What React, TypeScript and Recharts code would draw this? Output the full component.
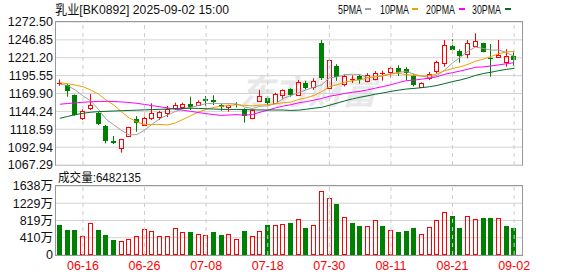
import React from 'react'
import { ComposedChart, Bar, Line, XAxis, YAxis, CartesianGrid, ReferenceLine } from 'recharts'

const DATES = [
  '06-11', '06-12', '06-13', '06-16', '06-17', '06-18', '06-19', '06-20', '06-23', '06-24',
  '06-25', '06-26', '06-27', '06-30', '07-01', '07-02', '07-03', '07-04', '07-07', '07-08',
  '07-09', '07-10', '07-11', '07-14', '07-15', '07-16', '07-17', '07-18', '07-21', '07-22',
  '07-23', '07-24', '07-25', '07-28', '07-29', '07-30', '07-31', '08-01', '08-04', '08-05',
  '08-06', '08-07', '08-08', '08-11', '08-12', '08-13', '08-14', '08-15', '08-18', '08-19',
  '08-20', '08-21', '08-22', '08-25', '08-26', '08-27', '08-28', '08-29', '09-01', '09-02',
]
const DATE_TICKS = ['06-16', '06-26', '07-08', '07-18', '07-30', '08-11', '08-21', '09-02']

const OPEN = [
  1185.0, 1182.1, 1167.7, 1135.2, 1148.7, 1142.4, 1123.3, 1101.7, 1091.3, 1108.9,
  1132.9, 1124.7, 1135.2, 1136.5, 1142.4, 1148.7, 1150.9, 1154.4, 1153.4, 1161.6,
  1160.1, 1153.4, 1151.0, 1155.0, 1147.2, 1134.3, 1159.6, 1163.9, 1156.7, 1167.7,
  1175.9, 1167.7, 1185.4, 1178.8, 1242.0, 1177.4, 1210.0, 1184.0, 1190.0, 1195.0,
  1188.0, 1191.0, 1199.0, 1201.2, 1206.1, 1205.0, 1195.0, 1179.7, 1191.7, 1202.6,
  1214.1, 1238.1, 1230.9, 1226.2, 1238.5, 1241.9, 1221.5, 1221.9, 1215.6, 1223.7,
]
const HIGH = [
  1190.0, 1183.5, 1168.5, 1147.2, 1169.2, 1143.8, 1124.7, 1108.9, 1104.6, 1122.0,
  1137.6, 1142.4, 1155.8, 1145.0, 1151.9, 1156.7, 1156.7, 1165.3, 1160.0, 1166.3,
  1167.3, 1155.8, 1153.8, 1157.5, 1148.7, 1147.0, 1174.9, 1165.3, 1171.0, 1175.9,
  1177.4, 1189.3, 1188.3, 1191.7, 1246.7, 1219.4, 1212.0, 1197.0, 1196.0, 1198.0,
  1199.0, 1202.0, 1202.6, 1208.0, 1210.4, 1208.0, 1198.0, 1186.0, 1200.8, 1217.0,
  1246.7, 1247.7, 1233.3, 1246.7, 1256.3, 1242.7, 1241.0, 1246.7, 1233.3, 1230.2,
]
const LOW = [
  1181.0, 1165.3, 1138.0, 1131.9, 1146.2, 1124.7, 1098.4, 1097.4, 1085.0, 1108.0,
  1115.1, 1124.7, 1131.9, 1131.9, 1136.1, 1146.2, 1148.7, 1146.2, 1152.0, 1151.9,
  1153.4, 1145.2, 1143.8, 1150.0, 1128.0, 1133.0, 1159.0, 1153.4, 1155.8, 1161.6,
  1165.3, 1166.3, 1175.9, 1175.0, 1189.3, 1176.3, 1188.0, 1180.0, 1185.0, 1184.0,
  1186.0, 1189.0, 1188.3, 1193.0, 1195.0, 1189.0, 1180.0, 1178.0, 1189.0, 1198.4,
  1208.4, 1227.6, 1214.1, 1220.4, 1237.1, 1229.0, 1194.0, 1221.9, 1208.4, 1209.4,
]
const CLOSE = [
  1185.4, 1173.9, 1139.0, 1144.8, 1153.4, 1126.1, 1102.2, 1098.4, 1104.6, 1121.4,
  1128.0, 1134.3, 1142.0, 1143.5, 1147.2, 1153.4, 1154.8, 1151.0, 1157.3, 1159.6,
  1157.3, 1150.1, 1153.4, 1154.0, 1137.6, 1146.2, 1166.3, 1156.8, 1169.2, 1174.9,
  1167.7, 1186.8, 1177.4, 1187.8, 1191.7, 1218.0, 1193.0, 1194.5, 1191.0, 1189.0,
  1196.0, 1200.0, 1199.3, 1206.1, 1201.2, 1200.0, 1182.1, 1184.5, 1197.4, 1215.5,
  1239.5, 1232.3, 1223.7, 1241.9, 1245.7, 1229.0, 1220.0, 1225.2, 1223.7, 1218.0,
]

// moving averages as drawn
const MA5 = [
  1183.4, 1181.5, 1175.0, 1166.5, 1159.3, 1147.4, 1133.1, 1125.0, 1116.9, 1110.5,
  1110.9, 1117.3, 1126.1, 1133.8, 1139.0, 1144.1, 1148.2, 1150.0, 1152.7, 1155.2,
  1156.0, 1155.1, 1155.5, 1154.9, 1150.5, 1148.3, 1151.5, 1152.2, 1155.2, 1162.7,
  1167.0, 1171.1, 1175.2, 1178.9, 1182.3, 1192.3, 1193.6, 1197.0, 1197.6, 1197.1,
  1192.7, 1194.1, 1195.1, 1198.1, 1200.5, 1201.3, 1197.7, 1194.8, 1193.0, 1195.9,
  1203.8, 1213.8, 1221.7, 1230.6, 1236.6, 1234.5, 1232.1, 1232.4, 1228.7, 1223.2,
]
const MA10 = [
  1185.4, 1184.0, 1182.0, 1179.7, 1175.0, 1169.2, 1160.6, 1153.4, 1143.8, 1134.9,
  1129.2, 1125.2, 1125.5, 1125.4, 1124.8, 1127.5, 1132.8, 1138.0, 1143.3, 1147.1,
  1150.0, 1151.6, 1152.8, 1153.8, 1152.9, 1152.1, 1153.3, 1153.9, 1155.1, 1156.6,
  1157.6, 1161.3, 1163.7, 1167.1, 1172.5, 1179.7, 1182.3, 1186.1, 1188.3, 1189.7,
  1192.5, 1193.8, 1196.0, 1197.9, 1198.8, 1197.0, 1195.9, 1194.9, 1195.6, 1198.2,
  1202.6, 1205.8, 1208.2, 1211.8, 1216.3, 1219.2, 1223.0, 1227.0, 1229.7, 1229.9,
]
const MA20 = [
  1154.5, 1155.5, 1156.5, 1157.3, 1158.0, 1158.5, 1158.6, 1158.4, 1157.8, 1157.0,
  1155.8, 1154.2, 1152.5, 1150.8, 1149.2, 1147.5, 1145.8, 1144.3, 1142.6, 1141.0,
  1139.6, 1138.4, 1139.1, 1139.6, 1138.8, 1139.8, 1143.0, 1145.9, 1149.2, 1151.8,
  1153.8, 1156.5, 1158.2, 1160.4, 1162.7, 1165.9, 1167.8, 1170.0, 1171.7, 1173.1,
  1175.1, 1177.6, 1179.9, 1182.5, 1185.6, 1188.3, 1189.1, 1190.5, 1191.9, 1194.0,
  1197.5, 1199.8, 1202.1, 1204.8, 1207.5, 1208.1, 1209.4, 1211.0, 1212.6, 1214.1,
]
const MA30 = [
  1134.3, 1137.0, 1139.5, 1141.5, 1143.0, 1143.8, 1144.3, 1144.8, 1145.2, 1145.6,
  1146.0, 1146.4, 1146.8, 1147.2, 1147.6, 1148.0, 1148.4, 1148.7, 1148.5, 1148.0,
  1147.6, 1147.2, 1147.0, 1147.0, 1146.8, 1146.5, 1146.3, 1146.2, 1146.2, 1146.2,
  1145.6, 1146.0, 1147.3, 1148.8, 1150.0, 1153.1, 1156.1, 1159.3, 1162.2, 1164.5,
  1166.7, 1168.9, 1170.8, 1172.9, 1174.7, 1176.3, 1177.2, 1178.3, 1179.6, 1181.5,
  1184.2, 1187.0, 1189.3, 1192.2, 1195.9, 1198.6, 1200.4, 1202.7, 1204.5, 1205.9,
]

// volume in 万 shares, colour: 1 = up (red), 0 = down (green)
const VOLUME = [
  717, 598, 598, 447, 757, 598, 478, 359, 327, 375,
  447, 614, 566, 447, 447, 638, 542, 550, 494, 478,
  550, 478, 494, 375, 574, 447, 566, 717, 709, 733,
  765, 853, 645, 709, 1522, 1355, 1219, 901, 765, 693,
  685, 829, 693, 590, 550, 574, 645, 494, 661, 829,
  1020, 932, 645, 924, 853, 884, 884, 877, 693, 648,
]
const VOL_UP = [
  0, 0, 0, 1, 1, 0, 0, 0, 1, 1,
  1, 1, 1, 1, 1, 1, 1, 0, 1, 1,
  0, 0, 1, 1, 0, 1, 1, 0, 1, 1,
  0, 1, 0, 1, 1, 1, 0, 1, 0, 0,
  1, 1, 0, 1, 0, 0, 0, 1, 1, 1,
  1, 0, 0, 1, 1, 0, 0, 1, 0, 0,
]

const PRICE_TICKS = [1067.29, 1092.94, 1118.59, 1144.24, 1169.9, 1195.55, 1221.2, 1246.85, 1272.5]
const VOL_TICKS = [0, 410, 819, 1229, 1638]

const UP = '#ff0000'
const DOWN = '#008000'
const FONT = "'Liberation Sans', Arial, 'Noto Sans CJK SC', sans-serif"
const MA_COLORS = { ma5: '#a0a0a0', ma10: '#f0a000', ma20: '#ff00ff', ma30: '#006b2d' }

const rows = DATES.map((date, i) => ({
  date,
  open: OPEN[i], high: HIGH[i], low: LOW[i], close: CLOSE[i],
  vol: VOLUME[i], volUp: VOL_UP[i] === 1,
  ma5: MA5[i], ma10: MA10[i], ma20: MA20[i], ma30: MA30[i],
}))

function Candle(props: any) {
  const { x, y, width, height, payload } = props
  if (!payload) return null
  const { open, close, high, low } = payload
  const top = Math.min(y, y + height)
  const h = Math.abs(height)
  const k = high > low ? h / (high - low) : 0
  const py = (v: number) => top + (high - v) * k
  const cx = Math.floor(x + width / 2) + 0.5
  const bTop = Math.round(py(Math.max(open, close)))
  const bBot = Math.round(py(Math.min(open, close)))
  if (close >= open) {
    return (
      <g>
        <line x1={cx} x2={cx} y1={top} y2={bTop + 0.5} stroke={UP} />
        <line x1={cx} x2={cx} y1={bBot + 0.5} y2={top + h} stroke={UP} />
        {bBot - bTop >= 1
          ? <rect x={cx - 2} y={bTop + 0.5} width={4} height={bBot - bTop} fill="none" stroke={UP} />
          : <line x1={cx - 2.5} x2={cx + 2.5} y1={bTop + 0.5} y2={bTop + 0.5} stroke={UP} />}
      </g>
    )
  }
  return (
    <g>
      <line x1={cx} x2={cx} y1={top} y2={top + h} stroke={DOWN} />
      <rect x={cx - 2.5} y={bTop} width={5} height={Math.max(bBot - bTop, 1)} fill={DOWN} />
    </g>
  )
}

function VolBar(props: any) {
  const { x, y, width, height, payload } = props
  if (!payload) return null
  const cx = Math.floor(x + width / 2) + 0.5
  const t = Math.round(y)
  const b = Math.round(y + height)
  if (payload.volUp) {
    return <rect x={cx - 2} y={t + 0.5} width={4} height={b - t - 1} fill="none" stroke={UP} />
  }
  return <rect x={cx - 2.5} y={t} width={5} height={b - t} fill={DOWN} />
}

const axisTick = { fontSize: 12.5, fill: '#111', fontFamily: FONT }

export default function App() {
  return (
    <div style={{ position: 'absolute', left: 0, top: 0, width: 578, height: 276, background: '#fff', fontFamily: FONT }}>
      {/* watermark */}
      <svg width={578} height={276} style={{ position: 'absolute', left: 0, top: 0 }}>
        <text x={240} y={104} fontSize={34} fontWeight="bold" fontStyle="italic" fill="#e8e8e8" fontFamily="'Noto Sans CJK SC', sans-serif">
          东方财富
        </text>
      </svg>

      <div style={{ position: 'absolute', left: 0, top: 0 }}>
        <ComposedChart width={578} height={176} data={rows} margin={{ top: 22, right: 56, bottom: 11, left: 6 }}>
          <CartesianGrid vertical={false} stroke="#d2d2d2" />
          <XAxis dataKey="date" hide padding={{ left: 0, right: 4 }} />
          <YAxis
            domain={[1067.29, 1272.5]}
            ticks={PRICE_TICKS}
            interval={0}
            width={50}
            tickSize={0}
            tickMargin={3}
            axisLine={false}
            allowDataOverflow
            tick={axisTick}
            tickFormatter={(v: number) => v.toFixed(2)}
          />
          {DATE_TICKS.map((d) => (
            <ReferenceLine key={d} x={d} stroke="#cccccc" strokeDasharray="4 4" />
          ))}
          <Bar dataKey={(d: any) => [d.low, d.high]} shape={<Candle />} barSize={5} isAnimationActive={false} />
          <Line dataKey="ma5" stroke={MA_COLORS.ma5} dot={false} strokeWidth={1} isAnimationActive={false} />
          <Line dataKey="ma10" stroke={MA_COLORS.ma10} dot={false} strokeWidth={1} isAnimationActive={false} />
          <Line dataKey="ma20" stroke={MA_COLORS.ma20} dot={false} strokeWidth={1} isAnimationActive={false} />
          <Line dataKey="ma30" stroke={MA_COLORS.ma30} dot={false} strokeWidth={1} isAnimationActive={false} />
        </ComposedChart>
      </div>

      <div style={{ position: 'absolute', left: 0, top: 170 }}>
        <ComposedChart width={578} height={106} data={rows} margin={{ top: 16, right: 56, bottom: 0, left: 6 }}>
          <CartesianGrid vertical={false} stroke="#d2d2d2" />
          <XAxis
            dataKey="date"
            ticks={DATE_TICKS}
            interval={0}
            padding={{ left: 0, right: 4 }}
            tickSize={0}
            tickMargin={6}
            height={21}
            axisLine={false}
            tick={{ fontSize: 12.5, fill: '#ff0000', fontFamily: FONT }}
          />
          <YAxis
            domain={[0, 1638]}
            ticks={VOL_TICKS}
            interval={0}
            width={50}
            tickSize={0}
            tickMargin={3}
            axisLine={false}
            tick={axisTick}
            tickFormatter={(v: number) => (v === 0 ? '0' : `${v}万`)}
          />
          {DATE_TICKS.map((d) => (
            <ReferenceLine key={d} x={d} stroke="#cccccc" strokeDasharray="4 4" />
          ))}
          <Bar dataKey="vol" shape={<VolBar />} barSize={5} isAnimationActive={false} />
        </ComposedChart>
      </div>

      {/* panel borders */}
      <div style={{ position: 'absolute', left: 55, top: 21, width: 466, height: 143, borderStyle: 'solid', borderWidth: 1, borderColor: '#999 #999 #ccc #999', pointerEvents: 'none' }} />
      <div style={{ position: 'absolute', left: 55, top: 185, width: 466, height: 69, border: '1px solid #999', pointerEvents: 'none' }} />

      {/* title, legend, volume label */}
      <svg width={578} height={276} style={{ position: 'absolute', left: 0, top: 0, pointerEvents: 'none' }}>
        <text x={55} y={14} fontSize={13} fill="#111" textLength={174} lengthAdjust="spacingAndGlyphs">
          乳业[BK0892] 2025-09-02 15:00
        </text>
        <text x={338} y={14} fontSize={13} fill="#111" textLength={24} lengthAdjust="spacingAndGlyphs">5PMA</text>
        <line x1={365} x2={371} y1={9} y2={9} stroke={MA_COLORS.ma5} strokeWidth={2} />
        <text x={380} y={14} fontSize={13} fill="#111" textLength={29} lengthAdjust="spacingAndGlyphs">10PMA</text>
        <line x1={412} x2={418} y1={9} y2={9} stroke={MA_COLORS.ma10} strokeWidth={2} />
        <text x={426} y={14} fontSize={13} fill="#111" textLength={29} lengthAdjust="spacingAndGlyphs">20PMA</text>
        <line x1={459} x2={465} y1={9} y2={9} stroke={MA_COLORS.ma20} strokeWidth={2} />
        <text x={472} y={14} fontSize={13} fill="#111" textLength={29} lengthAdjust="spacingAndGlyphs">30PMA</text>
        <line x1={505} x2={511} y1={9} y2={9} stroke={MA_COLORS.ma30} strokeWidth={2} />
        <text x={58} y={182} fontSize={12.5} fill="#111" textLength={83} lengthAdjust="spacingAndGlyphs">成交量:6482135</text>
      </svg>
    </div>
  )
}
